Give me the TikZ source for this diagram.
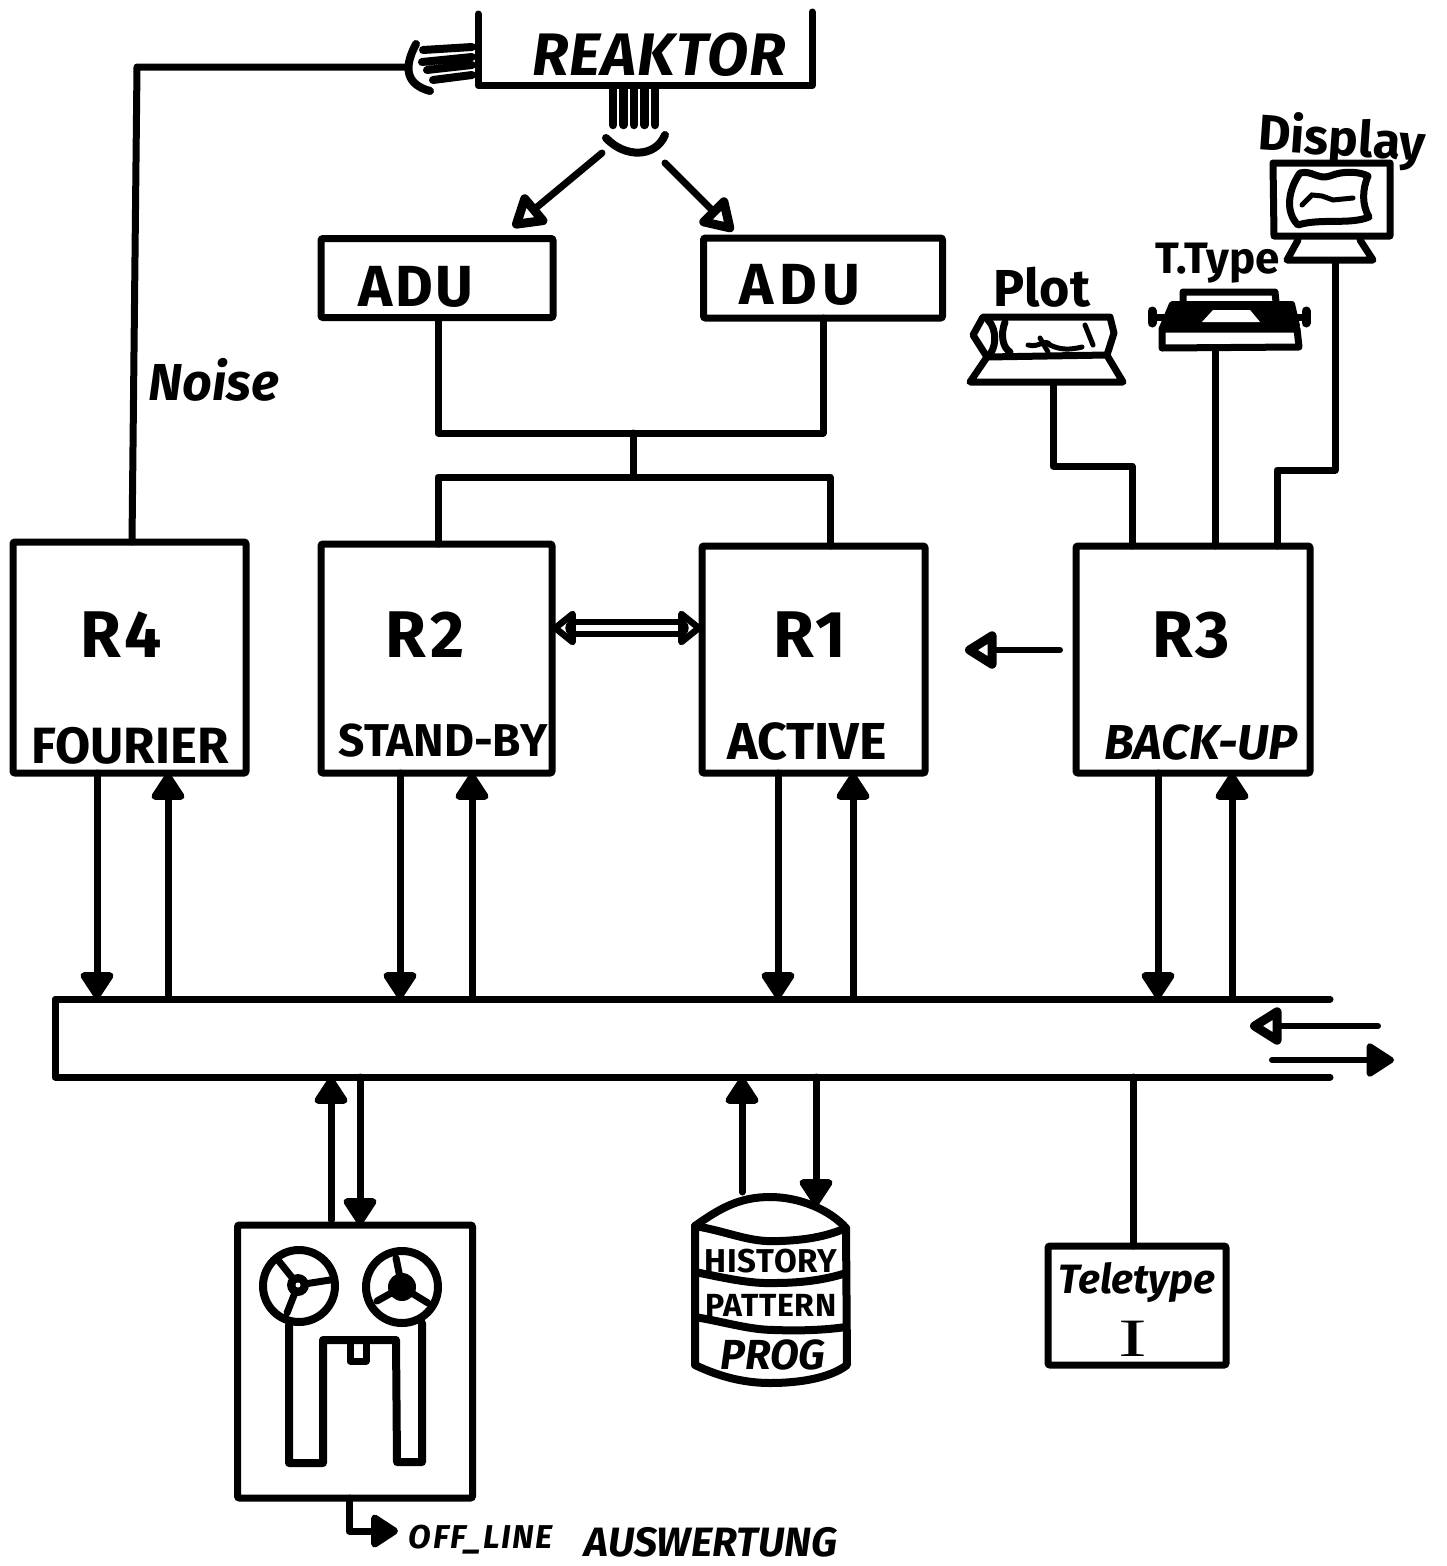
\documentclass[tikz,border=0pt]{standalone}
\usepackage{fontspec}
\setmainfont{Fira Sans}
\newfontfamily\serifI{Liberation Serif}
\usetikzlibrary{arrows.meta,calc}
\newcommand{\fs}[1]{\fontsize{#1}{#1}\selectfont}
\newcommand{\ls}[1]{\addfontfeature{LetterSpace=#1}}
\tikzset{
  ink/.style={line width=7pt,line cap=round,line join=round},
  thin ink/.style={line width=6pt,line cap=round,line join=round},
  heavy ink/.style={line width=8pt,line cap=round,line join=round},
  boxn/.style 2 args={draw,line width=7pt,rounded corners=2pt,inner sep=0pt,outer sep=0pt,minimum width=#1,minimum height=#2},
  blank/.style 2 args={inner sep=0pt,outer sep=0pt,minimum width=#1,minimum height=#2},
  lab/.style={inner sep=0pt,outer sep=0pt,font=\bfseries},
  solid head/.style={-{Triangle[length=30pt,width=37pt,round]}},
  open head/.style={-{Triangle[open,length=36pt,width=42pt,line width=10pt,round]}},
  open both/.style={{Triangle[open,length=26pt,width=40pt,line width=7pt,round]}-{Triangle[open,length=26pt,width=40pt,line width=7pt,round]}},
}
\begin{document}
\begin{tikzpicture}[x=1pt,y=-1pt]
\useasboundingbox (0,0) rectangle (1446,1566);
% nodes
\node[blank={334pt}{73pt}] (reak) at (645,49) {};
\node[lab,font=\bfseries\itshape\fs{60}\ls{2}] (reaktxt) at (659,55) {REAKTOR};
\node[boxn={232pt}{79pt}] (adua) at (437,278) {};
\node[boxn={239pt}{80pt}] (adub) at (823,278) {};
\node[lab,font=\bfseries\fs{58}\ls{4}] (adual) at (416,287) {ADU};
\node[lab,font=\bfseries\fs{58}\ls{10}] (adubl) at (800,285) {ADU};
\node[boxn={233pt}{231pt}] (r4) at (129.5,657.5) {};
\node[boxn={231pt}{229pt}] (r2) at (436.5,658.5) {};
\node[boxn={223pt}{227pt}] (r1) at (813.5,659.5) {};
\node[boxn={234pt}{227pt}] (r3) at (1193,659.5) {};
\node[lab,font=\bfseries\fs{66}\ls{8}] (r4l) at (121,635) {R4};
\node[lab,font=\bfseries\fs{66}\ls{6}] (r2l) at (425,635) {R2};
\node[lab,font=\bfseries\fs{66}\ls{4}] (r1l) at (810,635) {R1};
\node[lab,font=\bfseries\fs{66}\ls{4}] (r3l) at (1191,635) {R3};
\node[lab,font=\bfseries\fs{51}] (r4t) at (130,746) {FOURIER};
\node[lab,font=\bfseries\fs{46}] (r2t) at (443,741) {STAND-BY};
\node[lab,font=\bfseries\fs{52}] (r1t) at (807,741) {ACTIVE};
\node[lab,font=\bfseries\itshape\fs{49}] (r3t) at (1201,743) {BACK-UP};
\node[lab,font=\bfseries\itshape\fs{52}] (noise) at (214,380) {Noise};
\node[blank={1275pt}{78pt}] (bus) at (692.5,1038) {};
\node[boxn={235pt}{273pt}] (tape) at (355,1361.5) {};
\node[boxn={178pt}{119pt}] (tty) at (1137,1305.5) {};
\node[lab,font=\bfseries\itshape\fs{41}] (ttyl) at (1137,1282) {Teletype};
\node[lab,font=\serifI\fs{54},xscale=1.6] (ttyi) at (1133,1339) {I};
\node[blank={150pt}{188pt}] (disk) at (771,1291) {};
\node[lab,font=\bfseries\fs{33}\ls{2}] (hist) at (771,1261) {HISTORY};
\node[lab,font=\bfseries\fs{32}\ls{2}] (patt) at (771,1305) {PATTERN};
\node[lab,font=\bfseries\itshape\fs{42}] (prog) at (773,1355) {PROG};
\node[blank={150pt}{66pt}] (plot) at (1046,350) {};
\node[lab,font=\bfseries\fs{52}] (plotl) at (1042,287) {Plot};
\node[blank={140pt}{60pt}] (ttype) at (1228,320) {};
\node[lab,font=\bfseries\fs{44}] (ttypel) at (1218,263) {T.Type};
\node[blank={120pt}{100pt}] (disp) at (1335,212) {};
\node[lab,font=\bfseries\fs{50},rotate=-4] (dispt) at (1342,141) {Display};
\node[lab,font=\bfseries\itshape\fs{33}\ls{5}] (offa) at (481,1540) {OFF\_LINE};
\node[lab,font=\bfseries\itshape\fs{41}] (offb) at (711,1542) {AUSWERTUNG};
\coordinate (aduatip) at (513,227);
\coordinate (adubtip) at (733,231);
% reactor
\draw[ink] (478,14) -- (reak.south west) -- (reak.south east) -- (812,12);
\foreach \x in {613,623.5,634,644.5,655}
  \draw[line width=8.5pt,line cap=round] (\x,88) -- (\x,125);
\draw[heavy ink] (606,138) .. controls (625,158) and (655,158) .. (665,135);
\draw[line width=8pt,line cap=round] (423,50) -- (472,47) (422,62) -- (472,57) (427,70) -- (472,65) (433,80) -- (472,75);
\coordinate (det) at (408,67);
\draw[line width=8pt,line cap=round] (416,44) .. controls (402,70) and (408,85) .. (430,91);
\draw[open head,ink] (602,153) -- (aduatip);
\draw[open head,ink] (665,163) -- (adubtip);
% connections
\draw[ink] (r4.north -| 132,0) -- (137,67) -- (det);
\draw[ink] (438,0 |- adua.south) -- (438,433) -- (823,433) -- (823,0 |- adub.south);
\draw[ink] (633,433) -- (633,477);
\draw[ink] (438,0 |- r2.north) -- (438,477) -- (830,477) -- (830,0 |- r1.north);
\draw[open both,line width=6pt,line cap=round,double,double distance=6pt] (r2.east |- 0,628) -- (r1.west |- 0,628);
\draw[open head,thin ink] (r3.west |- 0,650) ++(-16,0) -- (965,650);
% bus
\draw[ink] (bus.north east) -- (bus.north west) -- (bus.south west) -- (bus.south east);
\draw[open head,thin ink] (1378,1026) -- (1250,1026);
\draw[solid head,thin ink] (1272,1060) -- (1394,1060);
% vertical arrows
\foreach \n/\a/\b in {r4/97/168,r2/400/472,r1/778/853,r3/1158/1232}{
  \draw[solid head,ink] (\a,0 |- \n.south) -- (\a,0 |- bus.north);
  \draw[solid head,ink] (\b,0 |- bus.north) -- (\b,0 |- \n.south);
}
% lower devices
\draw[solid head,ink] (331,1220) -- (331,0 |- bus.south);
\draw[solid head,ink] (360,0 |- bus.south) -- (360,0 |- tape.north);
\draw[solid head,ink] (742,1192) -- (742,0 |- bus.south);
\draw[solid head,ink] (816,0 |- bus.south) -- (816,1206);
\draw[ink] (1133,0 |- bus.south) -- (1133,0 |- tty.north);
\draw[solid head,ink] (349,0 |- tape.south) -- (349,1531) -- (398,1531);
% tape machine
\draw[line width=8pt] (299,1286) circle (36) (402,1287) circle (36);
\draw[ink] (298,1285) -- (278,1260) (298,1285) -- (330,1280) (298,1285) -- (287,1313);
\fill (298,1285) circle (11);
\fill[white] (298,1285) circle (2.5);
\draw[ink] (402,1287) -- (396,1258) (402,1287) -- (377,1301) (402,1287) -- (428,1303);
\fill (402,1287) circle (14);
\draw[heavy ink] (289,1325) -- (289,1463) -- (323,1463) -- (323,1340) -- (396,1340) -- (397,1462) -- (422,1462) -- (422,1323);
\draw[ink] (350,1342) -- (350,1361) -- (366,1361) -- (366,1342);
% disk
\draw[heavy ink] (695,1226) .. controls (720,1208) and (740,1197) .. (770,1197) .. controls (800,1197) and (830,1210) .. (846,1228);
\draw[heavy ink] (695,1226) .. controls (730,1232) and (750,1243) .. (780,1241) .. controls (810,1240) and (830,1235) .. (846,1228);
\draw[heavy ink] (695,1226) -- (695,1365) .. controls (720,1377) and (745,1383) .. (770,1383) .. controls (800,1383) and (830,1378) .. (847,1365) -- (846,1228);
\draw[heavy ink] (695,1272) .. controls (725,1278) and (750,1284) .. (775,1283) .. controls (800,1283) and (825,1280) .. (846,1273);
\draw[heavy ink] (695,1317) .. controls (725,1322) and (750,1330) .. (775,1330) .. controls (800,1331) and (825,1330) .. (846,1327);
% plotter
\draw[ink] (983,317) -- (1110,317) -- (1114,333) -- (1107,355) -- (987,357) -- (973,335) -- cycle;
\draw[ink] (988,320) .. controls (998,330) and (996,350) .. (988,356);
\draw[ink] (1005,322) .. controls (1000,335) and (1003,348) .. (1010,352);
\draw[line width=5pt,line cap=round] (1028,345) .. controls (1040,348) and (1045,338) .. (1050,345) .. controls (1060,350) and (1070,350) .. (1082,347);
\draw[line width=5pt,line cap=round] (1040,338) -- (1048,352) (1085,325) -- (1093,345);
\draw[ink] (987,357) -- (970,382) -- (1123,382) -- (1108,357);
\draw[ink] (plot.south -| 1053,0) -- (1053,466) -- (1132,466) -- (1132,0 |- r3.north);
% teletype
\draw[ink] (1183,302) -- (1183,292) -- (1275,292) -- (1276,302);
\fill[line width=6pt,draw,line join=round] (1172,304) -- (1292,304) -- (1297,326) -- (1162,328) -- cycle;
\fill[white] (1213,310) -- (1250,310) -- (1260,322) -- (1202,322) -- cycle;
\draw[line width=7pt] (1150,317) -- (1165,317) (1295,317) -- (1310,317);
\draw[line width=9pt,line cap=round] (1152,311) -- (1152,323) (1306,311) -- (1306,323);
\draw[ink] (1162,329) -- (1297,329) -- (1299,347) -- (1162,348) -- cycle;
\draw[ink] (1215,0 |- ttype.south) -- (1215,0 |- r3.north);
% display
\draw[ink] (1273,163) -- (1390,163) -- (1390,236) -- (1274,236) -- cycle;
\draw[ink] (1300,173) .. controls (1312,170) and (1318,180) .. (1330,176) .. controls (1345,170) and (1360,172) .. (1368,176) .. controls (1362,190) and (1362,205) .. (1369,217) .. controls (1350,225) and (1320,218) .. (1298,225) .. controls (1285,212) and (1288,190) .. (1300,173) -- cycle;
\draw[line width=5pt,line cap=round] (1302,205) -- (1312,195) -- (1322,196) -- (1333,200) -- (1353,198);
\draw[ink] (1298,240) -- (1287,260) -- (1373,260) -- (1360,240);
\draw[ink] (1335,0 |- disp.south) -- (1335,470) -- (1277,470) -- (1277,0 |- r3.north);
\end{tikzpicture}
\end{document}
